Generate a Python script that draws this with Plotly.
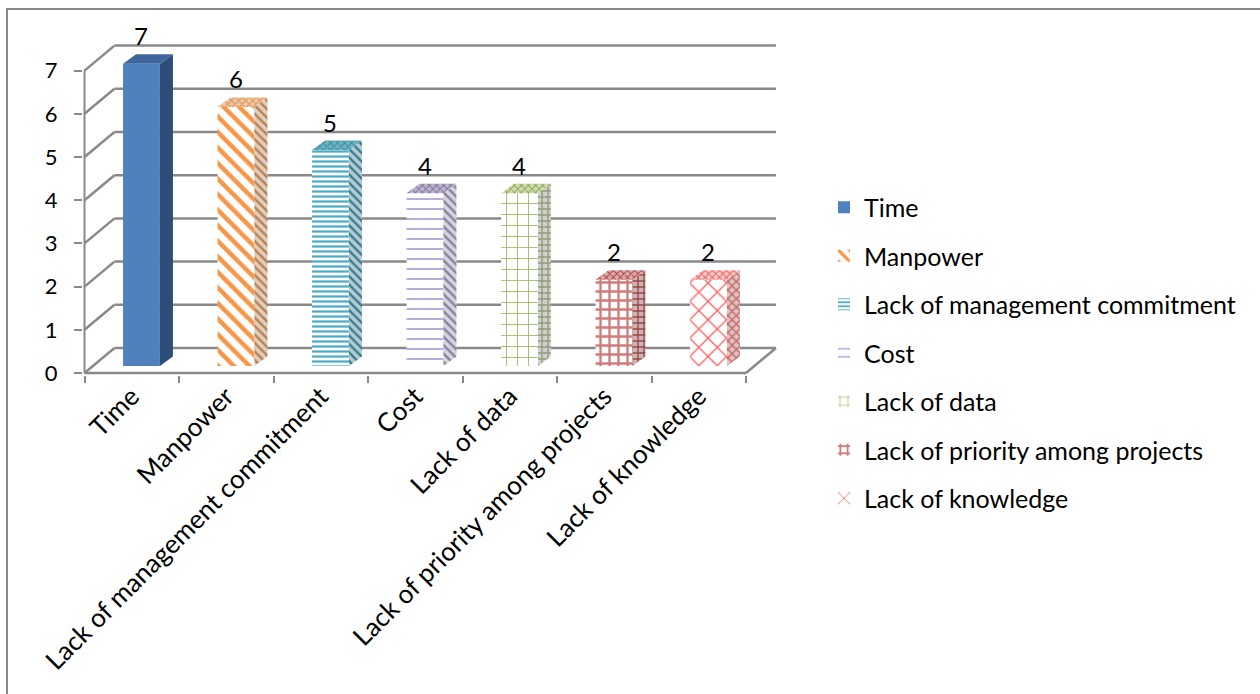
import plotly.graph_objects as go

categories = ["Time", "Manpower", "Lack of management commitment", "Cost",
              "Lack of data", "Lack of priority among projects", "Lack of knowledge"]
values = [7, 6, 5, 4, 4, 2, 2]
y_ticks = [0, 1, 2, 3, 4, 5, 6, 7]

front_fg = ["#4F81BD", "#F79646", "#4BACC6", "#A090CC", "#9BBB59", "#D07C7A", "#FF5A5A"]
front_shape = ["", "\\", "-", "-", "+", "+", "x"]
front_sol = [1.0, 0.4, 0.45, 0.15, 0.15, 0.45, 0.18]
front_size = [8, 11, 5, 10, 11, 9, 13]
top_fg = ["#3D679B", "#E0904F", "#3A8A9E", "#7E6FA0", "#8BA64E", "#A54441", "#F05A5A"]
top_bg = ["#3D679B", "#EFC7A5", "#6FB3C6", "#BDB5CF", "#CFDDB0", "#DFA9A8", "#F5C9C9"]
side_fg = ["#2E4D78", "#C47C42", "#2E7F93", "#8A80A0", "#8E9C78", "#9B4644", "#D45F5F"]
side_bg = ["#2E4D78", "#D8CFC7", "#B9CBD0", "#D6D3DC", "#D0D0CC", "#CDB5B5", "#D5C7C7"]

GRID = "#898989"
FONT = "Lato"
FS_X = 26
FS_Y = 22
FS_LBL = 24
FS_LEG = 25

# 3D geometry (in axis units)
DX, DY = 0.317, 0.579      # depth of floor/walls
FX, FY = 0.103, 0.16       # bar front-face offset into depth
BW = 0.39                  # bar width
BDX, BDY = 0.138, 0.22     # bar depth

fig = go.Figure()

for i, (c, v) in enumerate(zip(categories, values)):
    if front_shape[i]:
        pat = dict(shape=front_shape[i], fgcolor=front_fg[i], bgcolor="white",
                   solidity=front_sol[i], size=front_size[i], fillmode="replace", fgopacity=1)
        mk = dict(color=front_fg[i], pattern=pat, line=dict(width=0))
    else:
        mk = dict(color=front_fg[i], line=dict(width=0))
    fig.add_trace(go.Bar(x=[i + FX], y=[v], base=[FY], width=BW, name=c,
                         marker=mk, legendgroup=c, hoverinfo="skip"))

for i, v in enumerate(values):
    xl = i + FX - BW / 2
    xr = i + FX + BW / 2
    top = FY + v
    shp = front_shape[i]
    sx = [xr, xr + BDX, xr + BDX, xr, xr]
    sy = [FY, FY + BDY, top + BDY, top, FY]
    fp = dict(shape=shp if shp != "-" else "\\", fgcolor=side_fg[i], bgcolor=side_bg[i],
              solidity=0.4, size=6, fgopacity=1) if shp else None
    fig.add_trace(go.Scatter(x=sx, y=sy, mode="lines", fill="toself",
                             fillcolor=side_bg[i], line=dict(width=0),
                             fillpattern=fp, showlegend=False, hoverinfo="skip"))
    tx = [xl, xr, xr + BDX, xl + BDX, xl]
    ty = [top, top, top + BDY, top + BDY, top]
    fp2 = dict(shape="x", fgcolor=top_fg[i], bgcolor=top_bg[i],
               solidity=0.35, size=5, fgopacity=1) if shp else None
    fig.add_trace(go.Scatter(x=tx, y=ty, mode="lines", fill="toself",
                             fillcolor=top_bg[i], line=dict(width=0),
                             fillpattern=fp2, showlegend=False, hoverinfo="skip"))
    fig.add_annotation(x=i + FX, y=top + BDY, text=str(v), showarrow=False,
                       yanchor="bottom", yshift=2, font=dict(family=FONT, size=FS_LBL, color="black"))

shapes = []
n = len(categories)
for t in y_ticks:
    shapes.append(dict(type="line", xref="x", yref="y", x0=-0.5 + DX, x1=n - 0.5 + DX,
                       y0=t + DY, y1=t + DY, line=dict(color=GRID, width=2.5), layer="below"))
    shapes.append(dict(type="line", xref="x", yref="y", x0=-0.5, x1=-0.5 + DX,
                       y0=t, y1=t + DY, line=dict(color=GRID, width=2.5), layer="below"))
shapes.append(dict(type="line", xref="x", yref="y", x0=-0.5, x1=-0.5, y0=0, y1=max(y_ticks),
                   line=dict(color=GRID, width=2), layer="below"))
shapes.append(dict(type="line", xref="x", yref="y", x0=-0.5, x1=n - 0.5, y0=0, y1=0,
                   line=dict(color=GRID, width=2.5), layer="below"))
shapes.append(dict(type="line", xref="x", yref="y", x0=n - 0.5, x1=n - 0.5 + DX, y0=0, y1=DY,
                   line=dict(color=GRID, width=2.5), layer="below"))

L, R, T, B = 83, 481, 44, 319
W, H = 1260, 694
pw, ph = W - L - R, H - T - B
def px_x(p):
    return (p - L) / pw
def px_y(p):
    return (H - B - p) / ph
shapes.append(dict(type="rect", xref="paper", yref="paper",
                   x0=px_x(7), x1=px_x(1270), y0=px_y(704), y1=px_y(9),
                   line=dict(color="#888888", width=2), fillcolor="rgba(0,0,0,0)", layer="below"))

fig.update_layout(
    width=W, height=H,
    margin=dict(l=L, r=R, t=T, b=B, autoexpand=False),
    paper_bgcolor="white", plot_bgcolor="white",
    barmode="overlay",
    shapes=shapes,
    font=dict(family=FONT, size=FS_LEG, color="black"),
    showlegend=True,
    legend=dict(x=px_x(824), xanchor="left", y=px_y(353), yanchor="middle",
                font=dict(family=FONT, size=FS_LEG, color="black"),
                tracegroupgap=13, bgcolor="rgba(0,0,0,0)", maxheight=680),
)
fig.update_xaxes(range=[-0.5 - 1.5 / 94.5, -0.5 + (779 - 84.5) / 94.5],
                 tickvals=list(range(n)), ticktext=categories, tickangle=-45,
                 showgrid=False, zeroline=False, showline=False, ticks="",
                 minor=dict(tickvals=[k - 0.5 for k in range(n + 1)], ticks="outside",
                            ticklen=7, tickwidth=2, tickcolor=GRID, showgrid=False),
                 tickfont=dict(family=FONT, size=FS_X, color="black"))
fig.update_yaxes(range=[-2 / 43.2, (373 - 44) / 43.2], tickvals=y_ticks,
                 showgrid=False, zeroline=False, showline=False,
                 ticks="outside", ticklen=8, tickwidth=2, tickcolor=GRID,
                 ticklabelstandoff=12,
                 tickfont=dict(family=FONT, size=FS_Y, color="black"))

fig.write_html("out.html")
